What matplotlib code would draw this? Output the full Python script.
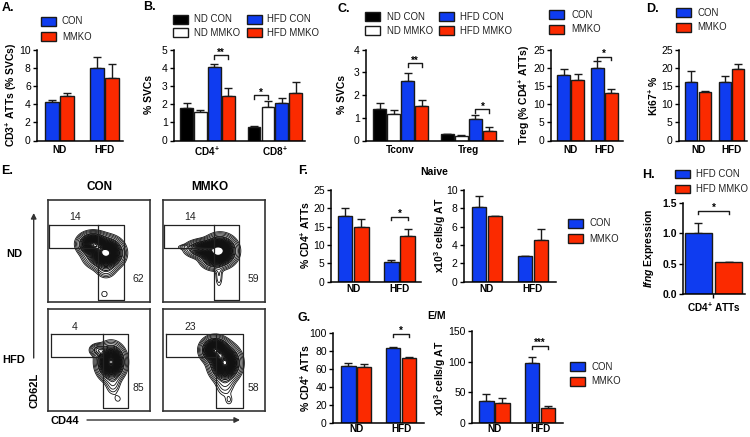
import numpy as np
import matplotlib
matplotlib.use("Agg")
import matplotlib.pyplot as plt
from matplotlib.patches import Rectangle, FancyArrowPatch
from matplotlib.transforms import Affine2D

plt.rcParams.update({
    "font.family": "Liberation Sans", "font.size": 7,
    "mathtext.fontset": "custom", "mathtext.rm": "Liberation Sans",
    "mathtext.bf": "Liberation Sans:bold", "mathtext.it": "Liberation Sans:italic:bold",
    "mathtext.default": "regular", "axes.linewidth": 1.1,
})

BLUE, RED, BLACK, WHITE = "#0f3cf0", "#fb2a00", "#000000", "#ffffff"
W, H = 750, 437

# ---------- data ----------
a_vals = [4.2, 4.85, 8.0, 6.9];            a_errs = [0.3, 0.42, 1.2, 1.5]
b_vals = [1.8, 1.55, 4.03, 2.47, 0.72, 1.83, 2.07, 2.6]
b_errs = [0.25, 0.15, 0.17, 0.4, 0.1, 0.35, 0.27, 0.6]
c_vals = [1.4, 1.17, 2.61, 1.52, 0.27, 0.2, 0.96, 0.43]
c_errs = [0.25, 0.16, 0.36, 0.28, 0.02, 0.03, 0.16, 0.16]
treg_vals = [18, 16.6, 20, 13];            treg_errs = [1.6, 1.7, 2, 1.3]
d_vals = [16, 13.3, 16.2, 19.8];           d_errs = [3.2, 0.2, 1.5, 1.4]
f1_vals = [17.8, 14.8, 5.3, 12.5];         f1_errs = [2.2, 2.2, 0.6, 1.8]
f2_vals = [8.2, 7.2, 2.75, 4.5];           f2_errs = [1.2, 0, 0.1, 1.3]
g1_vals = [63.5, 62.5, 83, 72];            g1_errs = [3.5, 3.5, 2, 1.5]
g2_vals = [36, 33, 98, 25];                g2_errs = [11, 8, 10, 3]
h_vals = [1.0, 0.52];                      h_errs = [0.17, 0.01]
nd_hfd = ["ND", "HFD"]
two = [BLUE, RED, BLUE, RED]
four = [BLACK, WHITE, BLUE, RED, BLACK, WHITE, BLUE, RED]

# flow gates: x0, xmid, x1, y0, ymid, y1 (local frame units)
gate_nd1 = (0.7, 50, 76, 25, 47.7, 99.5)
gate_nd2 = (0.7, 50.5, 76, 25, 47.7, 99.5)
gate_hfd1 = (2.7, 54.7, 80, 25.3, 48.3, 99.3)
gate_hfd2 = (2.7, 53, 80, 25.3, 48.3, 99.3)
# density peaks: cx, cy, sx, sy, weight (local frame units)
peaks_nd1 = [(59, 53, 7, 6.5, 1), (45, 44, 6.5, 5, .75), (50, 55, 7, 6, .2), (58, 68, 5, 5, .08)]
peaks_nd2 = [(57, 51, 7, 6.5, 1), (43, 49, 8.5, 4, .55), (24, 47, 5, 1.3, .04), (50, 58, 6, 5, .25), (56, 76, 2.2, 7, .03)]
peaks_hfd1 = [(63, 53, 6, 7.5, 1), (50, 41, 4, 3, .14), (65, 73, 4, 7, .05), (70, 90, 3, 3, .015)]
peaks_hfd2 = [(52, 41, 6, 5.5, .85), (62, 54, 6.5, 7.5, 1), (62, 73, 5, 8, .05), (66, 91, 2.5, 3.5, .02)]

fig = plt.figure(figsize=(W / 100, H / 100), dpi=100)
PX = Affine2D().scale(1 / W, -1 / H).translate(0, 1) + fig.transFigure


def put(x, y, s, **kw):
    kw.setdefault("ha", "center")
    kw.setdefault("va", "center")
    return fig.text(x, y, s, transform=PX, **kw)


def px_axes(left, right, top, bottom):
    return fig.add_axes([left / W, 1 - bottom / H, (right - left) / W, (bottom - top) / H])


def bars(left, right, top, bottom, vals, errs, colors, ymax, yticks, groups, gap, first, step,
         ylabel, ylabel_x, ylabel_y, brackets=(), width=0.92, ytl=None, bold_y=False, tick_x=False, xpad=3):
    ax = px_axes(left, right, top, bottom)
    per = len(vals) // len(groups)
    pos = np.array([i + (i // per) * gap for i in range(len(vals))], float)
    ax.bar(pos, vals, width=width, color=colors, edgecolor="#1a1a1a", linewidth=1.0, zorder=2)
    ax.errorbar(pos, vals, yerr=[np.zeros(len(errs)), errs], fmt="none", ecolor="#1a1a1a",
                elinewidth=1.0, capsize=2.6, capthick=1.0, zorder=1)
    ax.set_xlim((left - first) / step, (right - first) / step)
    ax.set_ylim(0, ymax)
    ax.set_yticks(yticks)
    if ytl:
        ax.set_yticklabels(ytl)
    ax.set_xticks([pos[k * per:(k + 1) * per].mean() for k in range(len(groups))])
    ax.set_xticklabels(groups, fontweight="bold", fontsize=7.2)
    ax.tick_params(axis="y", length=3, width=1, pad=1.5, labelsize=7.5)
    ax.tick_params(axis="x", length=3 if tick_x else 0, width=1, pad=xpad)
    if bold_y:
        for t in ax.get_yticklabels():
            t.set_fontweight("bold")
    for s in ("top", "right"):
        ax.spines[s].set_visible(False)
    ax.set_ylabel(ylabel, fontweight="bold", fontsize=7.5, va="center")
    ax.yaxis.set_label_coords(ylabel_x, ylabel_y, transform=PX)
    tr = ax.get_xaxis_transform()
    drop = 3.5 / (bottom - top)
    for i, j, yy, stars in brackets:
        yf = yy / ymax
        ax.plot([pos[i], pos[i], pos[j], pos[j]], [yf - drop, yf, yf, yf - drop], color="#1a1a1a",
                lw=1.0, transform=tr, clip_on=False, zorder=3)
        ax.text((pos[i] + pos[j]) / 2, yf - 0.025, stars, transform=tr, ha="center", va="bottom",
                fontweight="bold", fontsize=7, clip_on=False)
    return ax


T, B = 49.7, 140.5
bars(37, 123, T, B, a_vals, a_errs, two, 10, [0, 2, 4, 6, 8, 10], nd_hfd, 1, 52, 15,
     "CD3$^{+}$ ATTs (% SVCs)", 11, 95)
bars(174, 305, T, B, b_vals, b_errs, four, 5, range(6), ["CD4$^{+}$", "CD8$^{+}$"], .86, 186.5, 13.9,
     "% SVCs", 149, 94, [(2, 3, 4.7, "**"), (4, 5, 2.5, "*")])
bars(366, 503, T, B, c_vals, c_errs, four, 4, range(5), ["Tconv", "Treg"], .857, 379.5, 14,
     "% SVCs", 342, 94, [(2, 3, 3.4, "**"), (6, 7, 1.37, "*")])
bars(551, 623, T, B, treg_vals, treg_errs, two, 25, range(0, 26, 5), nd_hfd, .41, 563.5, 14,
     "Treg (% CD4$^{+}$ ATTs)", 524, 95, [(2, 3, 23, "*")])
bars(679, 747, T, B, d_vals, d_errs, two, 25, range(0, 26, 5), nd_hfd, .49, 691.3, 13.4,
     "Ki67$^{+}$ %", 653, 96)
bars(331, 421, 190, 281.7, f1_vals, f1_errs, two, 25, range(0, 26, 5), nd_hfd, .86, 345, 16.2,
     "% CD4$^{+}$ ATTs", 305, 235, [(2, 3, 17.7, "*")], xpad=1.5)
bars(464, 556, 190, 281.7, f2_vals, f2_errs, two, 10, range(0, 11, 2), nd_hfd, .87, 479, 16,
     "x10$^{3}$ cells/g AT", 440, 235, xpad=1.5)
bars(333, 424, 333, 423, g1_vals, g1_errs, two, 100, range(0, 101, 20), nd_hfd, .86, 348.3, 15.7,
     "% CD4$^{+}$ ATTs", 305, 378, [(2, 3, 99, "*")], xpad=1)
bars(472, 563, 331, 423, g2_vals, g2_errs, two, 150, [0, 50, 100, 150], nd_hfd, .86, 486.3, 16,
     "x10$^{3}$ cells/g AT", 440, 378, [(2, 3, 126, "***")], xpad=1)
bars(683, 745, 203, 294, h_vals, h_errs, [BLUE, RED], 1.5, [0, .5, 1, 1.5], ["CD4$^{+}$ ATTs"], 0, 698.3, 30.3,
     "$\\mathit{Ifng}$ Expression", 649, 248, [(0, 1, 1.37, "*")], width=.88,
     ytl=["0.0", "0.5", "1.0", "1.5"], bold_y=True, tick_x=True, xpad=2)


def legend(x0, y0, label, color, tx, sw=14.5, sh=9):
    fig.add_artist(Rectangle((x0, y0), sw, sh, transform=PX, facecolor=color, edgecolor="#1a1a1a", lw=1.0))
    put(tx, y0 + sh / 2, label, ha="left", fontsize=6.9, color="#222222")


legend(41, 17, "CON", BLUE, 62);  legend(41, 32, "MMKO", RED, 62)
legend(173, 15, "ND CON", BLACK, 194);  legend(173, 28, "ND MMKO", WHITE, 194)
legend(247, 15, "HFD CON", BLUE, 267);  legend(247, 28, "HFD MMKO", RED, 267)
legend(365, 12, "ND CON", BLACK, 387);  legend(365, 26, "ND MMKO", WHITE, 387)
legend(439, 12, "HFD CON", BLUE, 460);  legend(439, 26, "HFD MMKO", RED, 460)
legend(549, 10, "CON", BLUE, 571);  legend(549, 25, "MMKO", RED, 571)
legend(676, 8, "CON", BLUE, 697);  legend(676, 23, "MMKO", RED, 697)
legend(568, 219, "CON", BLUE, 589);  legend(568, 234, "MMKO", RED, 589)
legend(570, 362, "CON", BLUE, 591);  legend(570, 377, "MMKO", RED, 591)
legend(675, 170, "HFD CON", BLUE, 696, sh=8);  legend(675, 185, "HFD MMKO", RED, 696, sh=8)

for x, y, s in [(8, 8, "A."), (149, 7, "B."), (344, 9, "C."), (652, 9, "D."), (7, 171, "E."),
                (303, 171, "F."), (304, 318, "G."), (648, 175, "H.")]:
    put(x, y, s, fontweight="bold", fontsize=9)
put(434, 172, "Naive", fontweight="bold", fontsize=7.5)
put(437, 316, "E/M", fontweight="bold", fontsize=7.5)


def flow(x0, y0, gate, peaks, note_top, note_side):
    ax = px_axes(x0, x0 + 102, y0, y0 + 102)
    ax.set_xlim(0, 102);  ax.set_ylim(102, 0)
    ax.set_xticks([]);  ax.set_yticks([])
    for s in ax.spines.values():
        s.set_color("#333333");  s.set_linewidth(1.2)
    gx = np.linspace(0, 102, 400)
    X, Y = np.meshgrid(gx, gx)
    Z = sum(w * np.exp(-((X - cx) / sx) ** 2 / 2 - ((Y - cy) / sy) ** 2 / 2) for cx, cy, sx, sy, w in peaks)
    ax.contour(X, Y, Z, levels=np.linspace(0.1, 0.98, 26), colors="#111111", linewidths=0.75)
    ax.contour(X, Y, Z, levels=np.geomspace(0.012, 0.08, 5), colors="#111111", linewidths=0.6)
    xa, xm, xb, ya, ym, yb = gate
    ax.plot([xa, xb, xb, xm, xm], [ya, ya, yb, yb, ya], color="#222222", lw=0.9)
    ax.plot([xm, xa, xa], [ym, ym, ya], color="#222222", lw=0.9)
    ax.text(note_top[0], note_top[1], note_top[2], ha="center", va="center", fontsize=7.5, color="#222222")
    ax.text(90.5, 78.7, note_side, ha="center", va="center", fontsize=7.5, color="#222222")
    return ax


a1 = flow(48, 200, gate_nd1, peaks_nd1, (27, 17.5, "14"), "62")
a1.text(56.3, 94.7, "O", ha="center", va="center", fontsize=6.5)
flow(163, 200, gate_nd2, peaks_nd2, (27, 17.5, "14"), "59")
flow(48, 309, gate_hfd1, peaks_hfd1, (26.5, 18, "4"), "85")
flow(163, 309, gate_hfd2, peaks_hfd2, (27, 18, "23"), "58")

put(99.5, 187, "CON", fontweight="bold", fontsize=8.5)
put(210, 187, "MMKO", fontweight="bold", fontsize=8.5)
put(14, 254, "ND", fontweight="bold", fontsize=8)
put(14, 360, "HFD", fontweight="bold", fontsize=8)
put(34.5, 390, "CD62L", fontweight="bold", fontsize=8, rotation=90)
put(65, 421, "CD44", fontweight="bold", fontsize=8)
arrow = dict(arrowstyle="-|>", color="#333333", lw=1.0, mutation_scale=8, shrinkA=0, shrinkB=0)
fig.add_artist(FancyArrowPatch((33.7, 358), (33.7, 213), transform=PX, **arrow))
fig.add_artist(FancyArrowPatch((87, 420), (240, 420), transform=PX, **arrow))

fig.savefig("out.png", dpi=100)
